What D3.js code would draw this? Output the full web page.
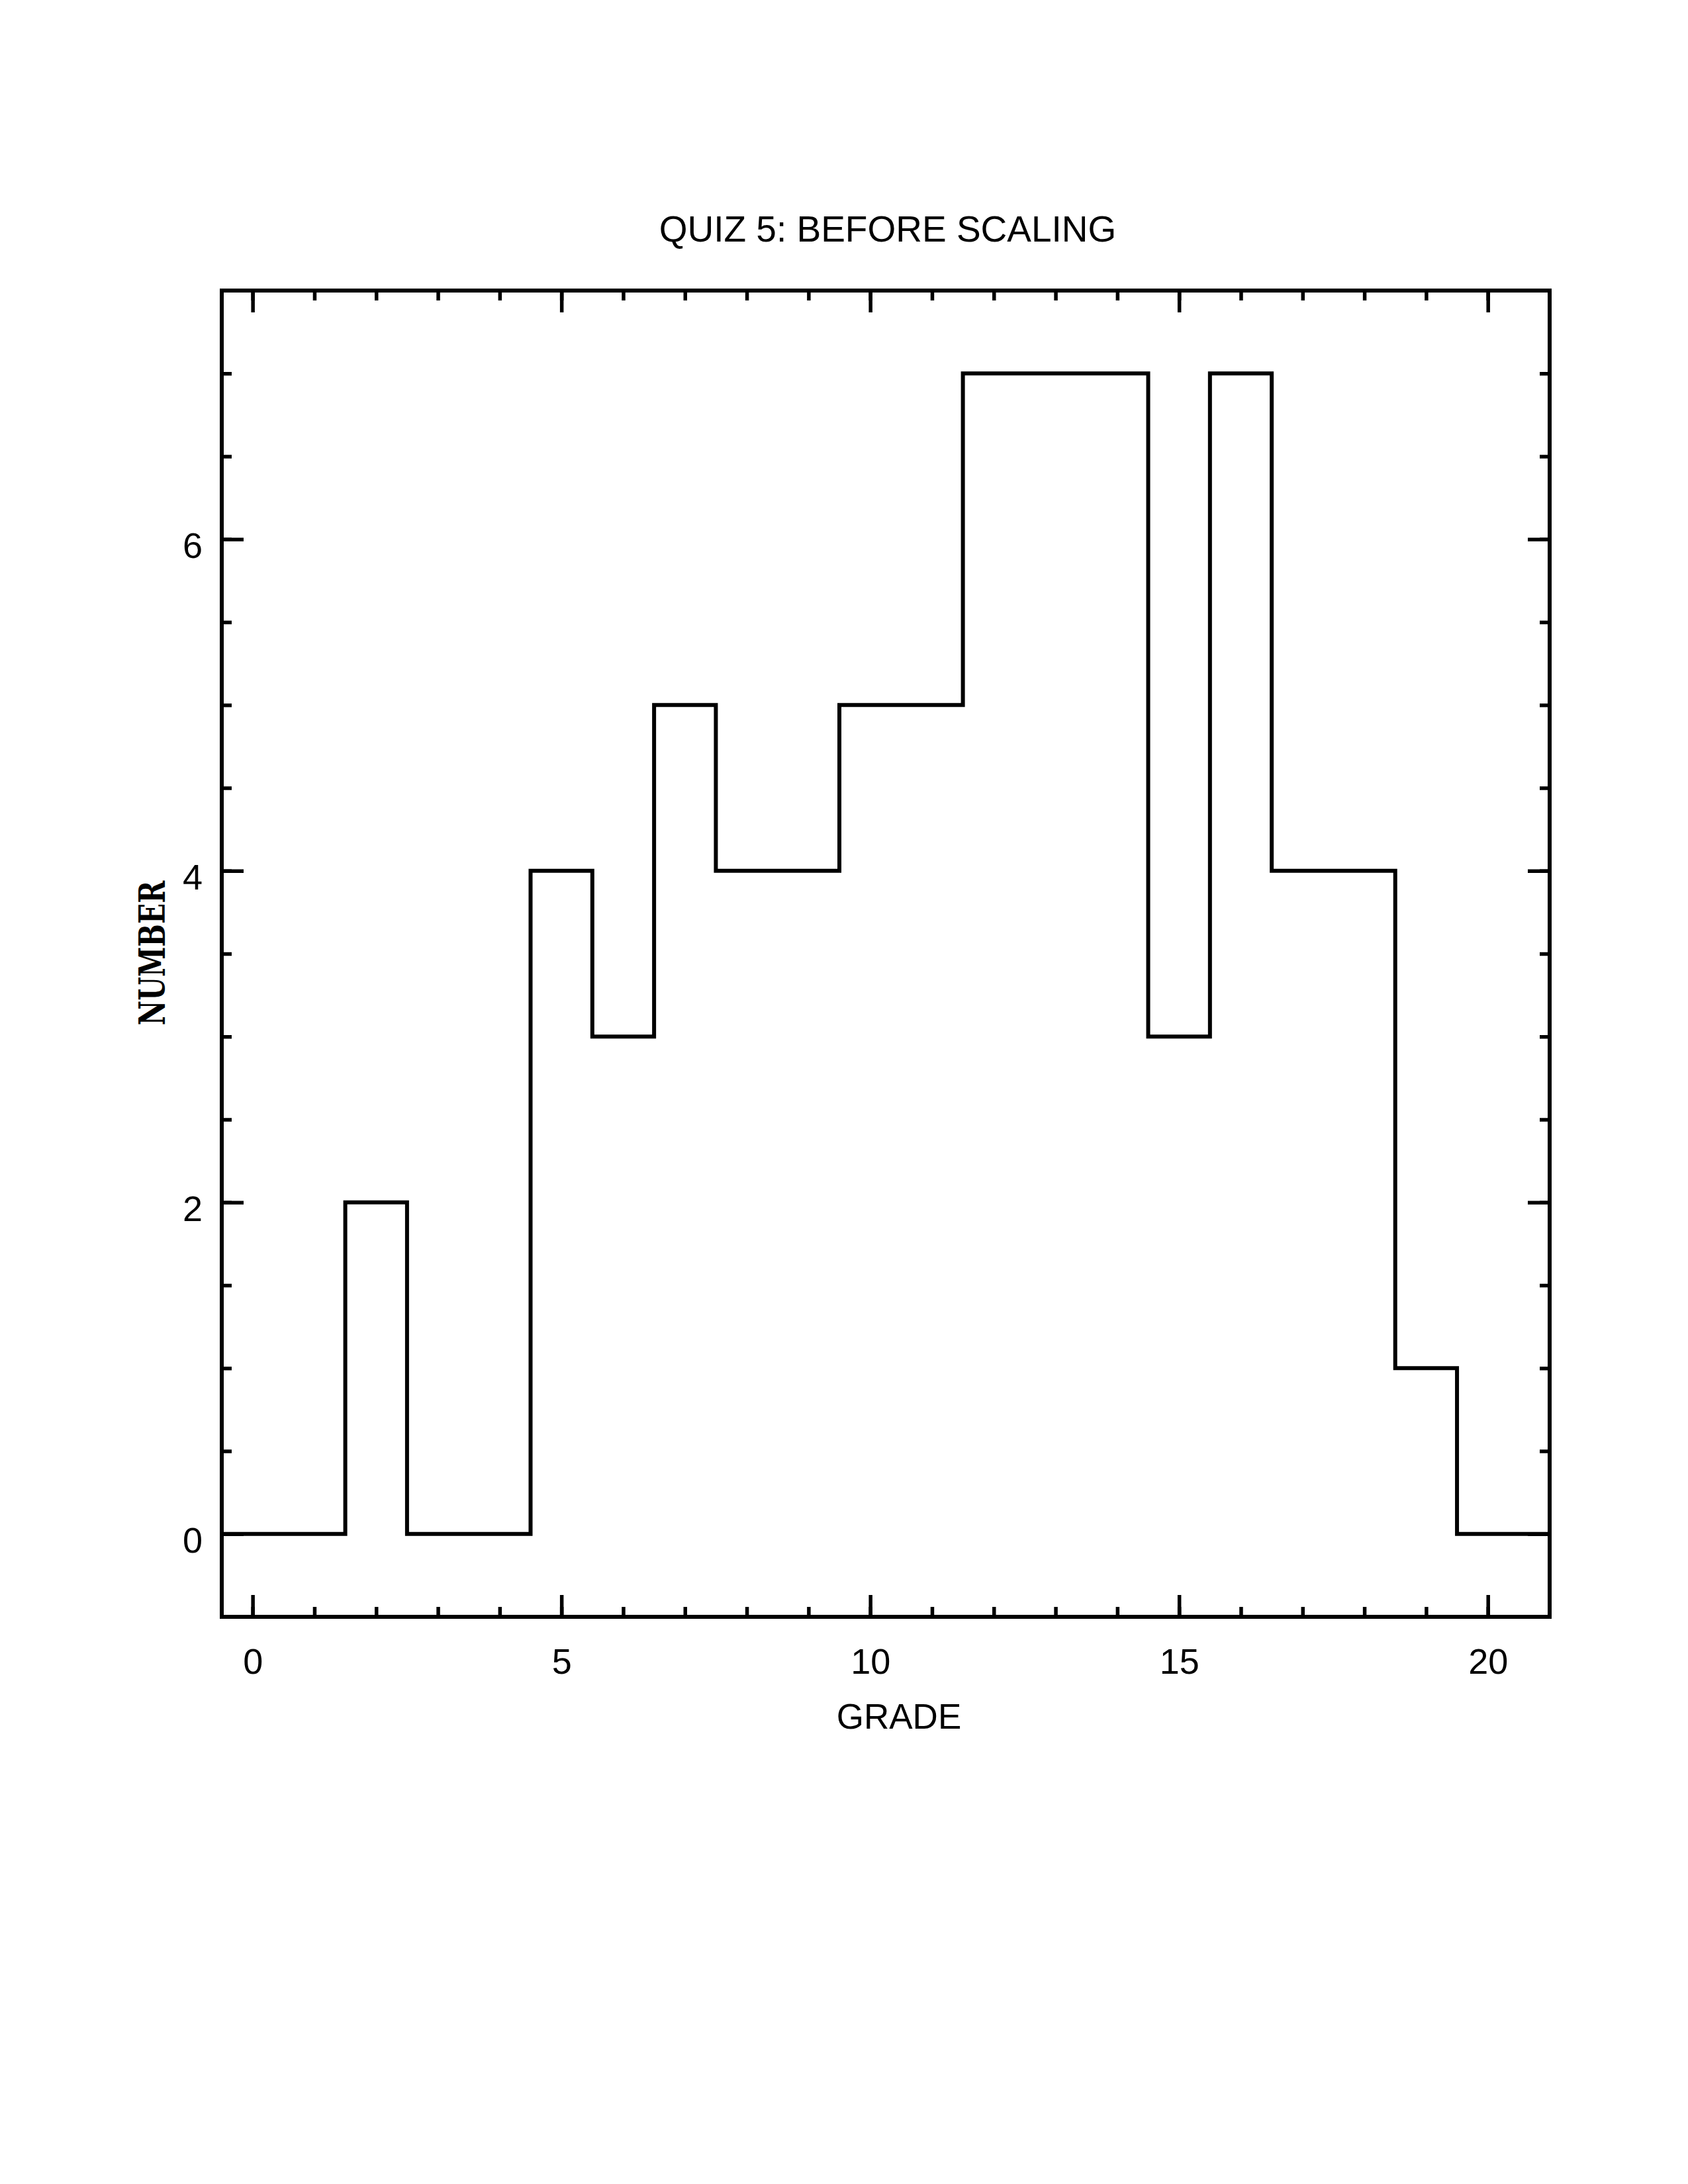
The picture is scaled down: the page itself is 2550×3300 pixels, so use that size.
<!DOCTYPE html>
<html>
<head>
<meta charset="utf-8">
<script src="https://cdn.jsdelivr.net/npm/d3@7"></script>
<style>
  body { margin: 0; background: #fff; }
  text { font-family: "Liberation Sans", Arial, sans-serif; fill: #000; }
</style>
</head>
<body>
<script>
// histogram data: number of students per grade
var grades = [0, 1, 2, 3, 4, 5, 6, 7, 8, 9, 10, 11, 12, 13, 14, 15, 16, 17, 18, 19, 20];
var counts = [0, 0, 2, 0, 0, 4, 3, 5, 4, 4, 5, 5, 7, 7, 7, 3, 7, 4, 4, 1, 0];

var xMajor = [0, 5, 10, 15, 20];
var yMajor = [0, 2, 4, 6];

var titleText = "QUIZ 5: BEFORE SCALING";
var xLabel = "GRADE";
var yLabel = "NUMBER";

var W = 2550, H = 3300;
// plot box edges (note: "top" is a reserved window global, so prefix these)
var pLeft = 335, pRight = 2341, pTop = 439, pBottom = 2443;

var x = d3.scaleLinear().domain([-0.5, 21]).range([pLeft, pRight]);
var y = d3.scaleLinear().domain([-0.5, 7.5]).range([pBottom, pTop]);

var xMinor = d3.range(0, 21, 1);
var yMinor = d3.range(0, 7.5, 0.5);

var svg = d3.select("body")
  .append("svg")
  .attr("width", W)
  .attr("height", H);

svg.append("rect")
  .attr("width", W).attr("height", H)
  .attr("fill", "#fff");

var tickW = 5.5, majLen = 33, minLen = 15;

function styleAxis(g) {
  g.select(".domain").remove();
  g.selectAll(".tick line").attr("stroke", "#000").attr("stroke-width", tickW);
}

// minor ticks, all four sides, pointing in
svg.append("g").attr("transform", "translate(0," + pBottom + ")")
  .call(d3.axisBottom(x).tickValues(xMinor).tickSize(-minLen).tickFormat(""))
  .call(styleAxis);
svg.append("g").attr("transform", "translate(0," + pTop + ")")
  .call(d3.axisTop(x).tickValues(xMinor).tickSize(-minLen).tickFormat(""))
  .call(styleAxis);
svg.append("g").attr("transform", "translate(" + pLeft + ",0)")
  .call(d3.axisLeft(y).tickValues(yMinor).tickSize(-minLen).tickFormat(""))
  .call(styleAxis);
svg.append("g").attr("transform", "translate(" + pRight + ",0)")
  .call(d3.axisRight(y).tickValues(yMinor).tickSize(-minLen).tickFormat(""))
  .call(styleAxis);

// major ticks with labels
var xAx = svg.append("g").attr("transform", "translate(0," + pBottom + ")")
  .call(d3.axisBottom(x).tickValues(xMajor).tickSize(-majLen).tickFormat(d3.format("d")))
  .call(styleAxis);
xAx.selectAll(".tick text")
  .attr("y", 86).attr("dy", null)
  .attr("font-size", 54)
  .attr("font-family", "Liberation Sans, Arial, sans-serif")
  .attr("fill", "#000");

svg.append("g").attr("transform", "translate(0," + pTop + ")")
  .call(d3.axisTop(x).tickValues(xMajor).tickSize(-majLen).tickFormat(""))
  .call(styleAxis);

var yAx = svg.append("g").attr("transform", "translate(" + pLeft + ",0)")
  .call(d3.axisLeft(y).tickValues(yMajor).tickSize(-majLen).tickFormat(d3.format("d")))
  .call(styleAxis);
yAx.selectAll(".tick text")
  .attr("x", -29).attr("y", 28).attr("dy", null)
  .attr("font-size", 54)
  .attr("font-family", "Liberation Sans, Arial, sans-serif")
  .attr("fill", "#000");

svg.append("g").attr("transform", "translate(" + pRight + ",0)")
  .call(d3.axisRight(y).tickValues(yMajor).tickSize(-majLen).tickFormat(""))
  .call(styleAxis);

// histogram outline (steps at bin edges)
var pts = grades.map(function(g, i) { return [g - 0.5, counts[i]]; });
pts.push([x.domain()[1], counts[counts.length - 1]]);

var line = d3.line()
  .x(function(d) { return x(d[0]); })
  .y(function(d) { return y(d[1]); })
  .curve(d3.curveStepAfter);

svg.append("path")
  .datum(pts)
  .attr("d", line)
  .attr("fill", "none")
  .attr("stroke", "#000")
  .attr("stroke-width", 6)
  .attr("stroke-linejoin", "miter");

// frame
svg.append("rect")
  .attr("x", pLeft).attr("y", pTop)
  .attr("width", pRight - pLeft).attr("height", pBottom - pTop)
  .attr("fill", "none")
  .attr("stroke", "#000")
  .attr("stroke-width", 6);

// title + axis labels
svg.append("text")
  .attr("x", (pLeft + pRight) / 2 + 3).attr("y", 365)
  .attr("text-anchor", "middle")
  .attr("font-size", 55)
  .text(titleText);

svg.append("text")
  .attr("x", 1358).attr("y", 2612)
  .attr("text-anchor", "middle")
  .attr("font-size", 53)
  .text(xLabel);

svg.append("text")
  .attr("transform", "translate(249,1440) rotate(-90) scale(1,1.32)")
  .attr("text-anchor", "middle")
  .attr("font-weight", "bold")
  .attr("font-size", 41)
  .style("font-family", "'DejaVu Serif', serif")
  .text(yLabel);
</script>
</body>
</html>
